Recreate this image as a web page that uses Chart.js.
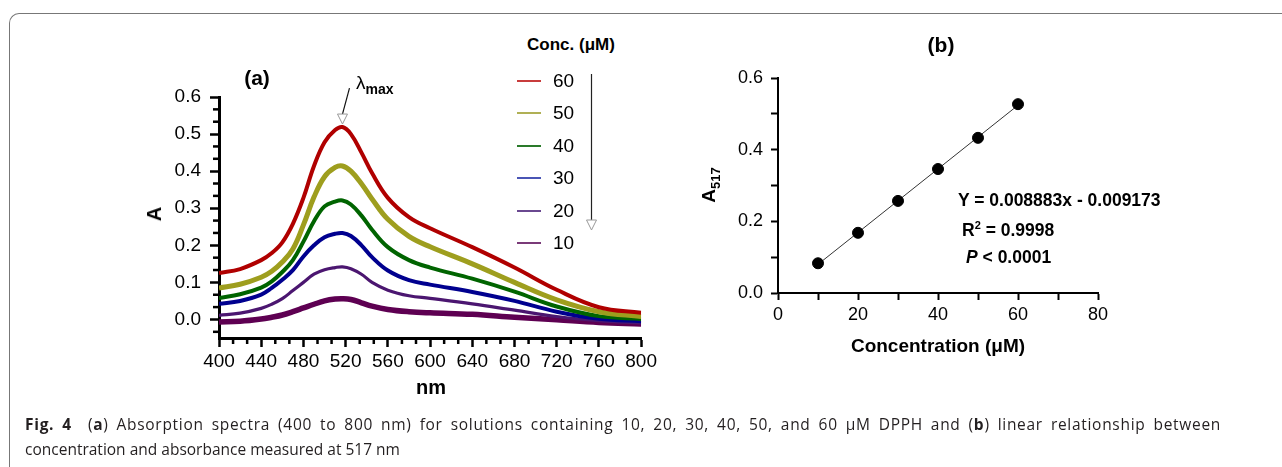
<!DOCTYPE html>
<html>
<head>
<meta charset="utf-8">
<script src="https://cdn.jsdelivr.net/npm/chart.js@4.4.1/dist/chart.umd.min.js"></script>
<style>
  body { margin:0; background:#fff; width:1282px; height:467px; overflow:hidden; position:relative;
         font-family:'Liberation Sans', Arial, sans-serif; color:#000; }
  .t { position:absolute; white-space:nowrap; line-height:1; }
  .c { transform:translate(-50%,-50%); }
  canvas { position:absolute; }
  .cap { position:absolute; left:25px; font-family:'Open Sans', sans-serif; font-size:15.5px;
         line-height:25px; color:#231f20; white-space:nowrap; }
</style>
</head>
<body>
<div style="position:absolute;left:9px;top:13px;width:1320px;height:520px;border-top:1.5px solid #777;border-left:1.5px solid #777;border-top-left-radius:10px"></div>

<canvas id="ca" width="520" height="340" style="left:140px;top:60px"></canvas>
<canvas id="cb" width="430" height="340" style="left:690px;top:30px"></canvas>

<div class="t c" style="left:257px;top:77px;font-weight:bold;font-size:21px">(a)</div>
<div class="t c" style="left:154px;top:214px;font-weight:bold;font-size:20px;transform:translate(-50%,-50%) rotate(-90deg)">A</div>
<div class="t c" style="left:431px;top:387px;font-weight:bold;font-size:20px">nm</div>
<div class="t" style="left:356px;top:73px;font-size:19px">&lambda;<span style="font-weight:bold;font-size:14px;position:relative;top:5px">max</span></div>
<div class="t c" style="left:571px;top:44px;font-weight:bold;font-size:17px">Conc. (&mu;M)</div>
<div id="legend"></div>
<svg style="position:absolute;left:0;top:0" width="1282" height="467">
  <line x1="591.5" y1="74" x2="591.5" y2="221" stroke="#222" stroke-width="1.2"/>
  <polygon points="586.5,220 596.5,220 591.5,230" fill="#fff" stroke="#999" stroke-width="1"/>
</svg>

<div class="t c" style="left:941px;top:44px;font-weight:bold;font-size:21px">(b)</div>
<div class="t c" style="left:708px;top:185px;font-weight:bold;font-size:19px;transform:translate(-50%,-50%) rotate(-90deg)">A<span style="font-size:13px;position:relative;top:5px">517</span></div>
<div class="t c" style="left:938px;top:345px;font-weight:bold;font-size:19px">Concentration (&mu;M)</div>
<div class="t" style="left:958px;top:192px;font-weight:bold;font-size:17.5px">Y = 0.008883x - 0.009173</div>
<div class="t" style="left:962px;top:222px;font-weight:bold;font-size:17.5px">R<span style="font-size:11px;position:relative;top:-7px">2</span> = 0.9998</div>
<div class="t" style="left:966px;top:249px;font-weight:bold;font-size:17.5px"><i>P</i> &lt; 0.0001</div>

<div class="cap" style="top:412px;width:1196px;letter-spacing:0.7px;text-align:justify;text-align-last:justify"><b>Fig. 4</b>&nbsp;&nbsp;(<b>a</b>) Absorption spectra (400 to 800 nm) for solutions containing 10, 20, 30, 40, 50, and 60 μM DPPH and (<b>b</b>) linear relationship between</div>
<div class="cap" style="top:437px">concentration and absorbance measured at 517 nm</div>

<script>
// (a) spectra, nm
const wavelength = [400, 420, 440, 450, 460, 470, 480, 490, 500, 510, 517, 525, 535, 545, 560, 580, 600, 640, 680, 720, 760, 800];
const abs60 = [0.125, 0.136, 0.160, 0.179, 0.208, 0.258, 0.328, 0.414, 0.478, 0.511, 0.519, 0.500, 0.450, 0.395, 0.328, 0.276, 0.246, 0.195, 0.140, 0.080, 0.033, 0.018];
const abs50 = [0.085, 0.095, 0.114, 0.130, 0.155, 0.190, 0.255, 0.330, 0.385, 0.410, 0.414, 0.400, 0.366, 0.325, 0.270, 0.224, 0.196, 0.150, 0.100, 0.053, 0.021, 0.008];
const abs40 = [0.058, 0.068, 0.086, 0.103, 0.128, 0.160, 0.210, 0.265, 0.305, 0.318, 0.321, 0.310, 0.280, 0.242, 0.195, 0.160, 0.140, 0.110, 0.075, 0.035, 0.009, 0.001];
const abs30 = [0.042, 0.050, 0.067, 0.085, 0.107, 0.133, 0.170, 0.200, 0.222, 0.231, 0.233, 0.225, 0.200, 0.168, 0.132, 0.106, 0.094, 0.074, 0.050, 0.021, 0.002, -0.005];
const abs20 = [0.011, 0.017, 0.030, 0.041, 0.056, 0.078, 0.100, 0.122, 0.134, 0.140, 0.142, 0.137, 0.122, 0.100, 0.079, 0.064, 0.057, 0.042, 0.025, 0.008, -0.003, -0.009];
const abs10 = [-0.007, -0.005, 0.001, 0.006, 0.012, 0.021, 0.031, 0.041, 0.050, 0.055, 0.056, 0.054, 0.045, 0.036, 0.027, 0.021, 0.018, 0.014, 0.006, -0.001, -0.008, -0.012];
const concLabels = ['60', '50', '40', '30', '20', '10'];
const spectra = [abs60, abs50, abs40, abs30, abs20, abs10];
const xTicksA = [400, 440, 480, 520, 560, 600, 640, 680, 720, 760, 800];
const yTicksA = [0, 0.1, 0.2, 0.3, 0.4, 0.5, 0.6];

// (b) calibration at 517 nm
const conc = [10, 20, 30, 40, 50, 60];
const a517 = [0.083, 0.168, 0.257, 0.346, 0.433, 0.527];
const fitX = [10, 60];
const fitY = [0.080, 0.524];
const xTicksB = [0, 10, 20, 30, 40, 50, 60, 70, 80];
const yTicksB = [0, 0.1, 0.2, 0.3, 0.4, 0.5, 0.6];

const lineColors = ['#b00000', '#9e9e1e', '#006400', '#00008f', '#4b1670', '#5e0052'];
const lineWidths = [4, 5, 4, 4, 3.2, 5.5];
const legendColors = ['#c83c3c', '#b0b055', '#2a7a2a', '#4a55b5', '#6a4890', '#7a3a78'];
const FONT = "'Liberation Sans', Arial, sans-serif";

// legend
const legend = document.getElementById('legend');
concLabels.forEach((lab, i) => {
    const y = 81 + i * 32.4;
    legend.insertAdjacentHTML('beforeend',
        `<div style="position:absolute;left:517px;top:${y - 1}px;width:24px;height:2px;background:${legendColors[i]}"></div>` +
        `<div class="t" style="left:553px;top:${y - 10}px;font-size:19px">${lab}</div>`);
});

// minor ticks drawn from the scales
const minorTicks = {
    id: 'minorTicks',
    afterDraw(chart, args, opts) {
        const { ctx, scales: { x, y } } = chart;
        ctx.save();
        ctx.strokeStyle = '#000';
        ctx.lineWidth = opts.width;
        opts.xs.forEach(v => {
            const px = x.getPixelForValue(v);
            ctx.beginPath(); ctx.moveTo(px, x.top); ctx.lineTo(px, x.top + opts.len); ctx.stroke();
        });
        opts.ys.forEach(v => {
            const py = y.getPixelForValue(v);
            ctx.beginPath(); ctx.moveTo(y.right, py); ctx.lineTo(y.right - opts.len, py); ctx.stroke();
        });
        ctx.restore();
    }
};

// lambda max arrow pointing at the top peak
const peakArrow = {
    id: 'peakArrow',
    afterDatasetsDraw(chart) {
        const { ctx, scales: { x, y } } = chart;
        const i = abs60.indexOf(Math.max(...abs60));
        const px = x.getPixelForValue(wavelength[i]);
        const py = y.getPixelForValue(abs60[i]) - 3;
        ctx.save();
        ctx.strokeStyle = '#111';
        ctx.lineWidth = 1.2;
        ctx.beginPath(); ctx.moveTo(px, py - 10); ctx.lineTo(px + 7, py - 36); ctx.stroke();
        ctx.beginPath(); ctx.moveTo(px, py); ctx.lineTo(px - 5, py - 10); ctx.lineTo(px + 5, py - 10); ctx.closePath();
        ctx.fillStyle = '#fff'; ctx.fill();
        ctx.strokeStyle = '#999'; ctx.lineWidth = 1; ctx.stroke();
        ctx.restore();
    }
};

const minorX = [], minorY = [];
for (let k = 0; k <= 30; k++) if (k % 3) minorX.push(400 + k * 40 / 3);
for (let k = -1; k <= 18; k++) if (k % 3) minorY.push(k / 30);

new Chart(document.getElementById('ca'), {
    type: 'line',
    data: {
        datasets: spectra.map((s, i) => ({
            label: concLabels[i],
            data: wavelength.map((w, j) => ({ x: w, y: s[j] })),
            borderColor: lineColors[i],
            borderWidth: lineWidths[i],
            pointRadius: 0,
            tension: 0.4,
            fill: false
        }))
    },
    plugins: [minorTicks, peakArrow],
    options: {
        responsive: false,
        animation: false,
        layout: { padding: { left: 0, top: 37, right: 17, bottom: 0 } },
        plugins: {
            legend: { display: false },
            tooltip: { enabled: false },
            minorTicks: { xs: minorX, ys: minorY, len: 6, width: 2.5 }
        },
        scales: {
            x: {
                type: 'linear', min: 400, max: 800,
                afterBuildTicks: s => { s.ticks = xTicksA.map(v => ({ value: v })); },
                afterFit: s => { s.height = 62; },
                ticks: { color: '#000', font: { size: 19, family: FONT }, padding: 3, maxRotation: 0, autoSkip: false },
                grid: { drawOnChartArea: false, tickLength: 9, tickWidth: 2.5, tickColor: '#000' },
                border: { color: '#000', width: 3 }
            },
            y: {
                min: -0.05, max: 0.6,
                afterBuildTicks: s => { s.ticks = yTicksA.map(v => ({ value: v })); },
                afterFit: s => { s.width = 79; },
                ticks: { color: '#000', font: { size: 19, family: FONT }, padding: 9, autoSkip: false,
                         callback: v => v.toFixed(1) },
                grid: { drawOnChartArea: false, tickLength: 9, tickWidth: 2.5, tickColor: '#000' },
                border: { color: '#000', width: 3 }
            }
        }
    }
});

new Chart(document.getElementById('cb'), {
    type: 'scatter',
    data: {
        datasets: [
            {
                data: conc.map((c, i) => ({ x: c, y: a517[i] })),
                backgroundColor: '#000', borderColor: '#000',
                pointRadius: 5.5, showLine: false
            },
            {
                data: fitX.map((c, i) => ({ x: c, y: fitY[i] })),
                borderColor: '#333', borderWidth: 1, pointRadius: 0, showLine: true
            }
        ]
    },
    options: {
        responsive: false,
        animation: false,
        layout: { padding: { left: 0, top: 48, right: 22, bottom: 0 } },
        plugins: { legend: { display: false }, tooltip: { enabled: false } },
        scales: {
            x: {
                type: 'linear', min: 0, max: 80,
                afterBuildTicks: s => { s.ticks = xTicksB.map(v => ({ value: v })); },
                afterFit: s => { s.height = 77; },
                ticks: { color: '#000', font: { size: 18, family: FONT }, padding: 4, maxRotation: 0, autoSkip: false,
                         callback: v => (v % 20 === 0 ? String(v) : '') },
                grid: { drawOnChartArea: false, tickLength: 7, tickWidth: 2, tickColor: '#000' },
                border: { color: '#000', width: 2 }
            },
            y: {
                min: 0, max: 0.6,
                afterBuildTicks: s => { s.ticks = yTicksB.map(v => ({ value: v })); },
                afterFit: s => { s.width = 88; },
                ticks: { color: '#000', font: { size: 18, family: FONT }, padding: 8, autoSkip: false,
                         callback: (v, i) => (i % 2 === 0 ? v.toFixed(1) : '') },
                grid: { drawOnChartArea: false, tickLength: 7, tickWidth: 2, tickColor: '#000' },
                border: { color: '#000', width: 2 }
            }
        }
    }
});
</script>
</body>
</html>
